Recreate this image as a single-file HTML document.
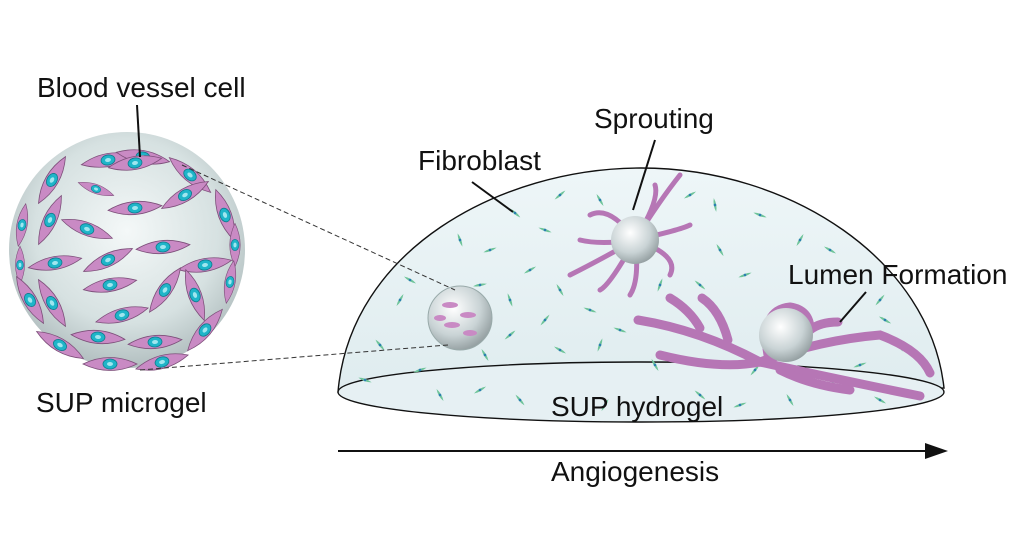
<!DOCTYPE html>
<html><head><meta charset="utf-8"><style>
html,body{margin:0;padding:0;background:#fff;width:1024px;height:541px;overflow:hidden}
svg{display:block}
text{font-family:"Liberation Sans",Arial,sans-serif;font-size:28px;fill:#111}
</style></head><body>
<svg width="1024" height="541" viewBox="0 0 1024 541" xmlns="http://www.w3.org/2000/svg">
<defs>
<radialGradient id="sg" cx="0.5" cy="0.42" r="0.6">
<stop offset="0" stop-color="#f4f8f8"/><stop offset="0.65" stop-color="#d6e1e1"/><stop offset="1" stop-color="#aebbbc"/></radialGradient>
<radialGradient id="bg2" cx="0.4" cy="0.35" r="0.7">
<stop offset="0" stop-color="#ffffff"/><stop offset="0.6" stop-color="#c9d3d5"/><stop offset="1" stop-color="#8f9a9c"/></radialGradient>
<linearGradient id="dome" x1="0" y1="0" x2="0" y2="1">
<stop offset="0" stop-color="#eef6f8"/><stop offset="1" stop-color="#dfecef"/></linearGradient>
<g id="cell"><path d="M-27,0 Q0,-13 27,0 Q0,13 -27,0Z" fill="#c98ac4" stroke="#7d4f7a" stroke-width="0.8"/><ellipse rx="7" ry="5" fill="#1fb5c9" stroke="#0f7b8c" stroke-width="0.8"/><ellipse rx="3" ry="2" fill="#9fe6ef"/></g>
<g id="fb"><path d="M-7,0 Q0,-2.5 7,0 Q0,2.5 -7,0Z" fill="#6fc49a"/><circle r="1.3" fill="#2a7fb0"/></g>
</defs>

<path d="M338,392 C350,250 500,168 641,168 C790,168 930,260 944,388 Z" fill="url(#dome)" stroke="#111" stroke-width="1.4"/>
<ellipse cx="641" cy="392" rx="303" ry="30" fill="#e6f0f3" stroke="#111" stroke-width="1.4"/>

<g>
<use href="#fb" transform="translate(515,213) rotate(40)"/>
<use href="#fb" transform="translate(490,250) rotate(-20)"/>
<use href="#fb" transform="translate(460,240) rotate(70)"/>
<use href="#fb" transform="translate(545,230) rotate(20)"/>
<use href="#fb" transform="translate(560,195) rotate(-40)"/>
<use href="#fb" transform="translate(600,200) rotate(60)"/>
<use href="#fb" transform="translate(690,195) rotate(-30)"/>
<use href="#fb" transform="translate(715,205) rotate(80)"/>
<use href="#fb" transform="translate(760,215) rotate(20)"/>
<use href="#fb" transform="translate(800,240) rotate(-60)"/>
<use href="#fb" transform="translate(830,250) rotate(30)"/>
<use href="#fb" transform="translate(720,250) rotate(60)"/>
<use href="#fb" transform="translate(745,275) rotate(-20)"/>
<use href="#fb" transform="translate(700,285) rotate(40)"/>
<use href="#fb" transform="translate(660,285) rotate(-70)"/>
<use href="#fb" transform="translate(560,290) rotate(60)"/>
<use href="#fb" transform="translate(530,270) rotate(-30)"/>
<use href="#fb" transform="translate(510,300) rotate(70)"/>
<use href="#fb" transform="translate(545,320) rotate(-50)"/>
<use href="#fb" transform="translate(590,310) rotate(20)"/>
<use href="#fb" transform="translate(410,280) rotate(30)"/>
<use href="#fb" transform="translate(400,300) rotate(-60)"/>
<use href="#fb" transform="translate(380,345) rotate(50)"/>
<use href="#fb" transform="translate(420,370) rotate(-20)"/>
<use href="#fb" transform="translate(485,355) rotate(60)"/>
<use href="#fb" transform="translate(510,335) rotate(-40)"/>
<use href="#fb" transform="translate(560,350) rotate(30)"/>
<use href="#fb" transform="translate(600,345) rotate(-70)"/>
<use href="#fb" transform="translate(620,330) rotate(20)"/>
<use href="#fb" transform="translate(880,300) rotate(-50)"/>
<use href="#fb" transform="translate(885,320) rotate(30)"/>
<use href="#fb" transform="translate(900,345) rotate(70)"/>
<use href="#fb" transform="translate(860,365) rotate(-20)"/>
<use href="#fb" transform="translate(440,395) rotate(60)"/>
<use href="#fb" transform="translate(480,390) rotate(-30)"/>
<use href="#fb" transform="translate(520,400) rotate(50)"/>
<use href="#fb" transform="translate(605,405) rotate(-60)"/>
<use href="#fb" transform="translate(700,395) rotate(40)"/>
<use href="#fb" transform="translate(740,405) rotate(-20)"/>
<use href="#fb" transform="translate(790,400) rotate(60)"/>
<use href="#fb" transform="translate(830,385) rotate(-40)"/>
<use href="#fb" transform="translate(880,400) rotate(30)"/>
<use href="#fb" transform="translate(655,365) rotate(60)"/>
<use href="#fb" transform="translate(755,370) rotate(-50)"/>
<use href="#fb" transform="translate(365,380) rotate(20)"/>
<use href="#fb" transform="translate(480,285) rotate(-10)"/>
</g>

<g stroke="#b676b5" stroke-width="5" stroke-linecap="round" fill="none">
<path d="M635,240 Q660,200 680,175"/><path d="M635,240 Q610,205 590,215"/>
<path d="M635,240 Q680,230 690,225"/><path d="M635,240 Q680,255 670,275"/>
<path d="M635,240 Q640,280 630,295"/><path d="M635,240 Q600,260 570,275"/>
<path d="M635,240 Q600,245 580,240"/><path d="M635,240 Q610,285 600,290"/>
<path d="M635,240 Q660,200 655,185"/>
</g>
<circle cx="635" cy="240" r="24" fill="url(#bg2)"/>

<circle cx="460" cy="318" r="32" fill="url(#bg2)" stroke="#9aa" stroke-width="1"/>
<g fill="#c98ac4"><ellipse cx="450" cy="305" rx="8" ry="3"/><ellipse cx="468" cy="315" rx="8" ry="3"/><ellipse cx="452" cy="325" rx="8" ry="3"/><ellipse cx="470" cy="333" rx="7" ry="3"/><ellipse cx="440" cy="318" rx="6" ry="3"/></g>

<g stroke="#b676b5" stroke-width="9" stroke-linecap="round" fill="none">
<path d="M638,320 Q700,330 760,362 Q820,340 880,335 Q920,350 930,373"/>
<path d="M760,362 Q840,380 920,396"/>
<path d="M760,362 Q720,370 660,355"/>
<path d="M700,328 Q690,310 670,298"/>
<path d="M728,340 Q720,310 702,298"/>
<path d="M780,370 Q810,385 850,390"/>
<path d="M768,355 Q760,310 790,307 Q810,310 810,330 Q820,322 838,322"/>
</g>
<circle cx="786" cy="335" r="27" fill="url(#bg2)"/>

<circle cx="127" cy="250" r="118" fill="url(#sg)"/>
<g>
<use href="#cell" transform="translate(108,160) rotate(-10)"/>
<use href="#cell" transform="translate(143,157) rotate(10)"/>
<use href="#cell" transform="translate(135,163) rotate(-10)"/>
<use href="#cell" transform="translate(190,175) rotate(40)"/>
<use href="#cell" transform="translate(52,180) rotate(-60)"/>
<use href="#cell" transform="translate(96,189) rotate(20) scale(0.7)"/>
<use href="#cell" transform="translate(135,208) rotate(-5)"/>
<use href="#cell" transform="translate(185,195) rotate(-30)"/>
<use href="#cell" transform="translate(50,220) rotate(-65)"/>
<use href="#cell" transform="translate(87,229) rotate(20)"/>
<use href="#cell" transform="translate(22,225) rotate(-80) scale(0.8)"/>
<use href="#cell" transform="translate(225,215) rotate(70)"/>
<use href="#cell" transform="translate(163,247) rotate(-5)"/>
<use href="#cell" transform="translate(235,245) rotate(90) scale(0.8)"/>
<use href="#cell" transform="translate(55,263) rotate(-10)"/>
<use href="#cell" transform="translate(108,260) rotate(-25)"/>
<use href="#cell" transform="translate(20,265) rotate(-90) scale(0.7)"/>
<use href="#cell" transform="translate(205,265) rotate(-10)"/>
<use href="#cell" transform="translate(110,285) rotate(-10)"/>
<use href="#cell" transform="translate(165,290) rotate(-55)"/>
<use href="#cell" transform="translate(195,295) rotate(70)"/>
<use href="#cell" transform="translate(230,282) rotate(-80) scale(0.8)"/>
<use href="#cell" transform="translate(30,300) rotate(60)"/>
<use href="#cell" transform="translate(52,303) rotate(60)"/>
<use href="#cell" transform="translate(122,315) rotate(-15)"/>
<use href="#cell" transform="translate(98,337) rotate(5)"/>
<use href="#cell" transform="translate(155,342) rotate(-5)"/>
<use href="#cell" transform="translate(205,330) rotate(-50)"/>
<use href="#cell" transform="translate(60,345) rotate(30)"/>
<use href="#cell" transform="translate(110,364) rotate(0)"/>
<use href="#cell" transform="translate(162,362) rotate(-15)"/>
</g>

<line x1="182" y1="165" x2="455" y2="290" stroke="#333" stroke-width="1" stroke-dasharray="5,3"/>
<line x1="140" y1="370" x2="448" y2="345" stroke="#333" stroke-width="1" stroke-dasharray="5,3"/>

<g stroke="#111" stroke-width="2">
<line x1="137" y1="105" x2="140" y2="157"/>
<line x1="655" y1="140" x2="633" y2="210"/>
<line x1="472" y1="182" x2="513" y2="212"/>
<line x1="866" y1="292" x2="840" y2="322"/>
</g>

<line x1="338" y1="451" x2="930" y2="451" stroke="#111" stroke-width="2"/>
<path d="M948,451 L925,443 L925,459 Z" fill="#111"/>

<text x="37" y="97">Blood vessel cell</text>
<text x="594" y="128">Sprouting</text>
<text x="418" y="170">Fibroblast</text>
<text x="788" y="284">Lumen Formation</text>
<text x="36" y="412">SUP microgel</text>
<text x="551" y="416">SUP hydrogel</text>
<text x="551" y="481">Angiogenesis</text>
</svg>
</body></html>
